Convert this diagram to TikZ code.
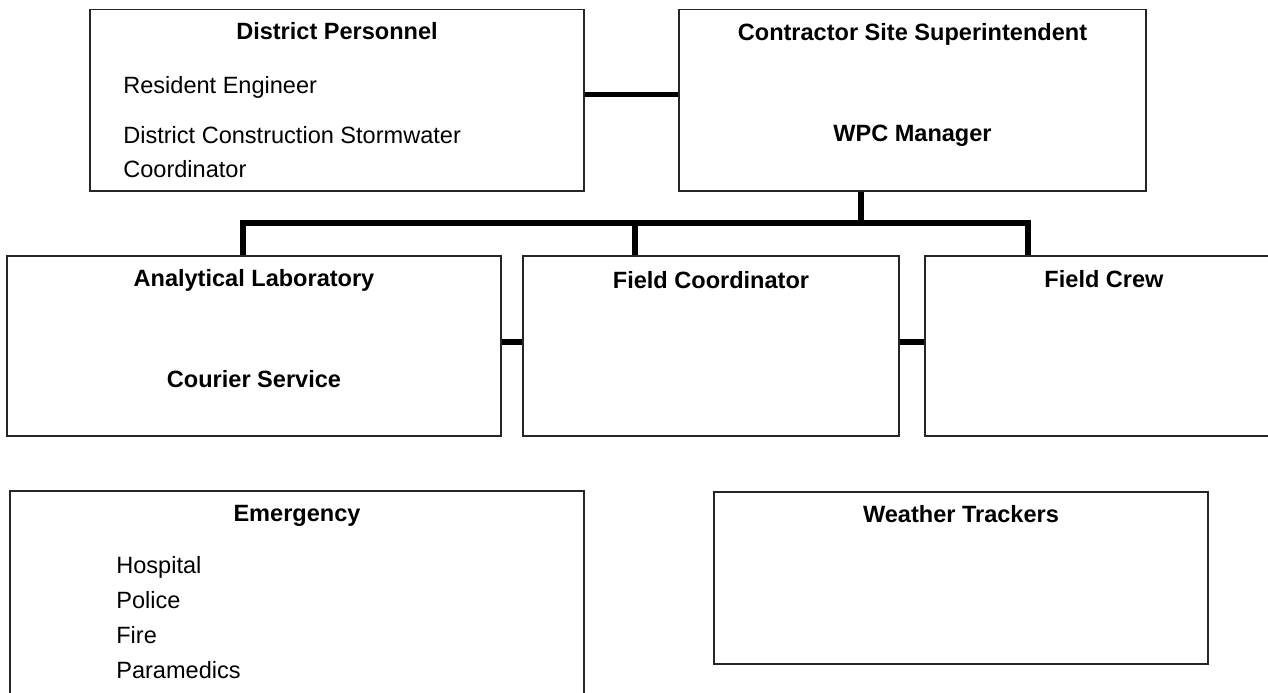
\documentclass[tikz,border=0pt]{standalone}
\usepackage{fontspec}
\setmainfont{Liberation Sans}
\usepackage{tikz}
\usetikzlibrary{positioning, calc}

\begin{document}
\begin{tikzpicture}[
  x=0.02cm, y=-0.02cm,
  box/.style={rectangle, draw=black!85, line width=0.85pt, inner sep=0pt},
  link/.style={line width=3.1pt, black},
  ttl/.style={font=\fontsize{13.4}{16}\selectfont\bfseries, anchor=base, inner sep=0pt},
  itm/.style={font=\fontsize{13.4}{16}\selectfont, anchor=base west, inner sep=0pt},
]
  \useasboundingbox (0,0) rectangle (1268,693);

  % Top row
  \node[box, minimum width=9.88cm, minimum height=3.63cm] (dp) at (337,100.25) {};
  \node[ttl] (dpT) at (337,39) {District Personnel};
  \node[itm] (re) at (123,93) {Resident Engineer};
  \node[itm] (dcs) at (123,143) {District Construction Stormwater};
  \node[itm] (dcs2) at (123,177) {Coordinator};

  \node[box, minimum width=9.34cm, minimum height=3.63cm] (cs) at (912.5,100.25) {};
  \node[ttl] (csT) at (912.5,40) {Contractor Site Superintendent};
  \node[ttl] (wpc) at (912.5,141) {WPC Manager};

  \draw[link] ([yshift=0.12cm]dp.east) -- ([yshift=0.12cm]cs.west);

  % Middle row
  \node[box, minimum width=9.88cm, minimum height=3.6cm] (lab) at (254,346) {};
  \node[ttl] (labT) at (254,286) {Analytical Laboratory};
  \node[ttl] (cour) at (254,387) {Courier Service};

  \node[box, minimum width=7.52cm, minimum height=3.6cm] (fc) at (711,346) {};
  \node[ttl] (fcT) at (711,288) {Field Coordinator};

  \node[box, minimum width=7.16cm, minimum height=3.6cm] (crew) at (1104,346) {};
  \node[ttl] (crewT) at (1104,287) {Field Crew};

  \draw[link] ([yshift=0.08cm]lab.east) -- ([yshift=0.08cm]fc.west);
  \draw[link] ([yshift=0.08cm]fc.east) -- ([yshift=0.08cm]crew.west);

  % Bus
  \coordinate (hub) at (861,223);
  \coordinate (busL) at (243,223);
  \coordinate (busM) at (635,223);
  \coordinate (busR) at (1028,223);
  \draw[link] (hub |- cs.south) -- (hub);
  \draw[link] (busL |- lab.north) -- (busL) -- (busR) -- (busR |- crew.north);
  \draw[link] (busM) -- (busM |- fc.north);

  % Bottom row
  \node[box, minimum width=11.48cm, minimum height=4.58cm] (emer) at (297,605.5) {};
  \node[ttl] (emerT) at (297,521) {Emergency};
  \node[itm] (hosp) at (116,573) {Hospital};
  \node[itm] (pol) at (116,608) {Police};
  \node[itm] (fire) at (116,643) {Fire};
  \node[itm] (para) at (116,678) {Paramedics};

  \node[box, minimum width=9.88cm, minimum height=3.44cm] (wx) at (961,578) {};
  \node[ttl] (wxT) at (961,522) {Weather Trackers};
\end{tikzpicture}
\end{document}
